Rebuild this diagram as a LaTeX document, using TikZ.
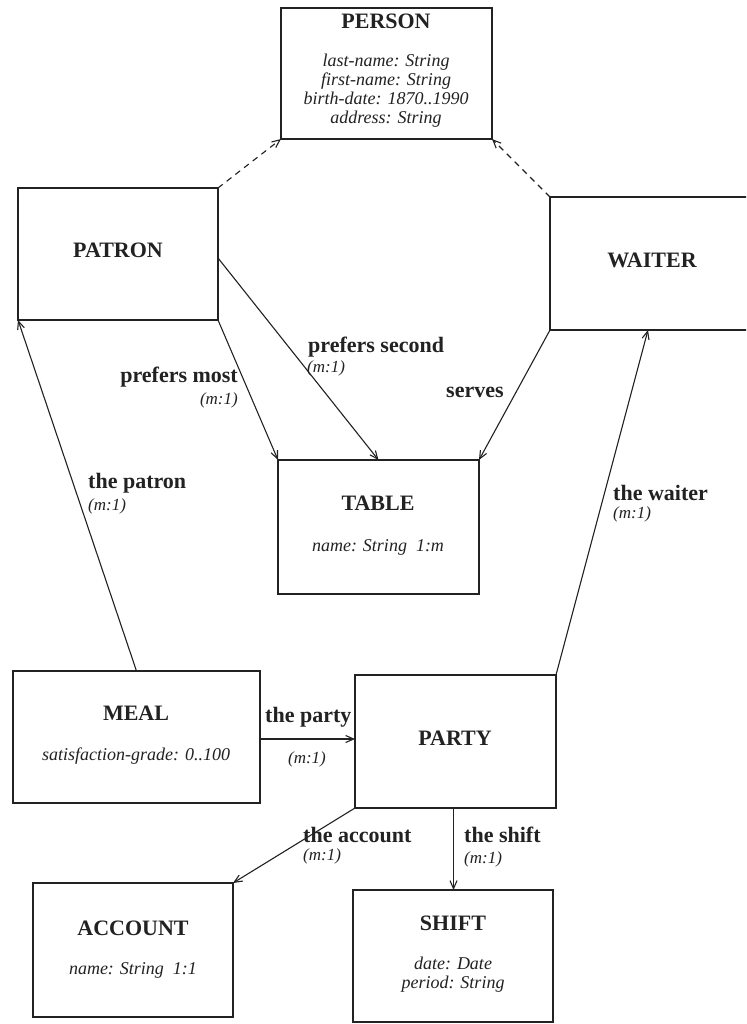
\documentclass[tikz,border=0pt]{standalone}
\usepackage{fontspec}
\setmainfont{Liberation Serif}
\usetikzlibrary{arrows.meta,calc}
\definecolor{ink}{HTML}{222222}
\tikzset{
  box/.style={draw=ink, line width=1.5pt, inner sep=0pt, outer sep=0pt},
  title/.style={text=ink, font=\fontsize{22}{24}\selectfont\bfseries, inner sep=0pt},
  attr/.style={text=ink, font=\fontsize{18}{19}\selectfont\itshape, inner sep=0pt, align=center},
  lbl/.style={text=ink, font=\fontsize{22}{24}\selectfont\bfseries, inner sep=0pt},
  card/.style={text=ink, font=\fontsize{17}{19}\selectfont\itshape, inner sep=0pt},
  conn/.style={draw=ink, line width=1.1pt, -{Straight Barb[length=8pt,width=7pt]}},
  isa/.style={conn, dash pattern=on 6pt off 5pt},
}
\begin{document}
\begin{tikzpicture}[x=1pt,y=-1pt]
\useasboundingbox[fill=white] (0,0) rectangle (746,1024);
\clip (0,0) rectangle (746,1024);
% boxes
\node[box, minimum width=211pt, minimum height=131pt] (person) at (386.5,73.5) {};
\node[box, minimum width=200pt, minimum height=132pt] (patron) at (118,254) {};
\node[box, minimum width=204pt, minimum height=133pt] (waiter) at (652,263.5) {};
\node[box, minimum width=201pt, minimum height=134pt] (table) at (378.5,527) {};
\node[box, minimum width=247pt, minimum height=132pt] (meal) at (136.5,737) {};
\node[box, minimum width=201pt, minimum height=133pt] (party) at (455.5,741.5) {};
\node[box, minimum width=200pt, minimum height=134pt] (account) at (133,950) {};
\node[box, minimum width=200pt, minimum height=132pt] (shift) at (453,956) {};
% box texts
\node[title] (personT) at (386,21) {PERSON};
\node[attr] (personA) at (386,90.5) {last-name: String\\first-name: String\\birth-date: 1870..1990\\address: String};
\node[title] (patronT) at (118,250) {PATRON};
\node[title] (waiterT) at (652,260) {WAITER};
\node[title] (tableT) at (378,503) {TABLE};
\node[attr] (tableA) at (378,547) {name: String\ \ 1:m};
\node[title] (mealT) at (136,713) {MEAL};
\node[attr] (mealA) at (136,756) {satisfaction-grade: 0..100};
\node[title] (partyT) at (455,738) {PARTY};
\node[title] (accountT) at (133,928) {ACCOUNT};
\node[attr] (accountA) at (133,970) {name: String\ \ 1:1};
\node[title] (shiftT) at (453,923) {SHIFT};
\node[attr] (shiftA) at (453,975) {date: Date\\period: String};
% connectors
\draw[isa] (patron.north east) -- (person.south west);
\draw[isa] (waiter.north west) -- (person.south east);
\draw[conn] (patron.south east) -- (table.north west);
\draw[conn] ($(patron.east)+(0,4)$) -- (table.north);
\draw[conn] (waiter.south west) -- (table.north east);
\draw[conn] (meal.north) -- (patron.south west);
\draw[conn] (party.north east) -- ($(waiter.south)+(-4,0)$);
\draw[conn] ($(meal.east)+(0,2)$) -- ($(meal.east -| party.west)+(0,2)$);
\draw[conn] (party.south west) -- (account.north east);
\draw[conn] ($(party.south)+(-2,0)$) -- ($(party.south |- shift.north)+(-2,0)$);
% connector labels
\node[lbl, anchor=east] (l1) at (238,377) {prefers most};
\node[card, anchor=east] (l1c) at (238,400) {(m:1)};
\node[lbl, anchor=west] (l2) at (308,347) {prefers second};
\node[card, anchor=west] (l2c) at (307,368) {(m:1)};
\node[lbl, anchor=west] (l3) at (446,392) {serves};
\node[lbl, anchor=west] (l4) at (88,483) {the patron};
\node[card, anchor=west] (l4c) at (88,506) {(m:1)};
\node[lbl, anchor=west] (l5) at (613,493) {the waiter};
\node[card, anchor=west] (l5c) at (613,514) {(m:1)};
\node[lbl, anchor=west] (l6) at (265,717) {the party};
\node[card] (l6c) at (307,759) {(m:1)};
\node[lbl, anchor=west] (l7) at (303,835) {the account};
\node[card, anchor=west] (l7c) at (303,856) {(m:1)};
\node[lbl, anchor=west] (l8) at (464,835) {the shift};
\node[card, anchor=west] (l8c) at (464,859) {(m:1)};
\end{tikzpicture}
\end{document}
